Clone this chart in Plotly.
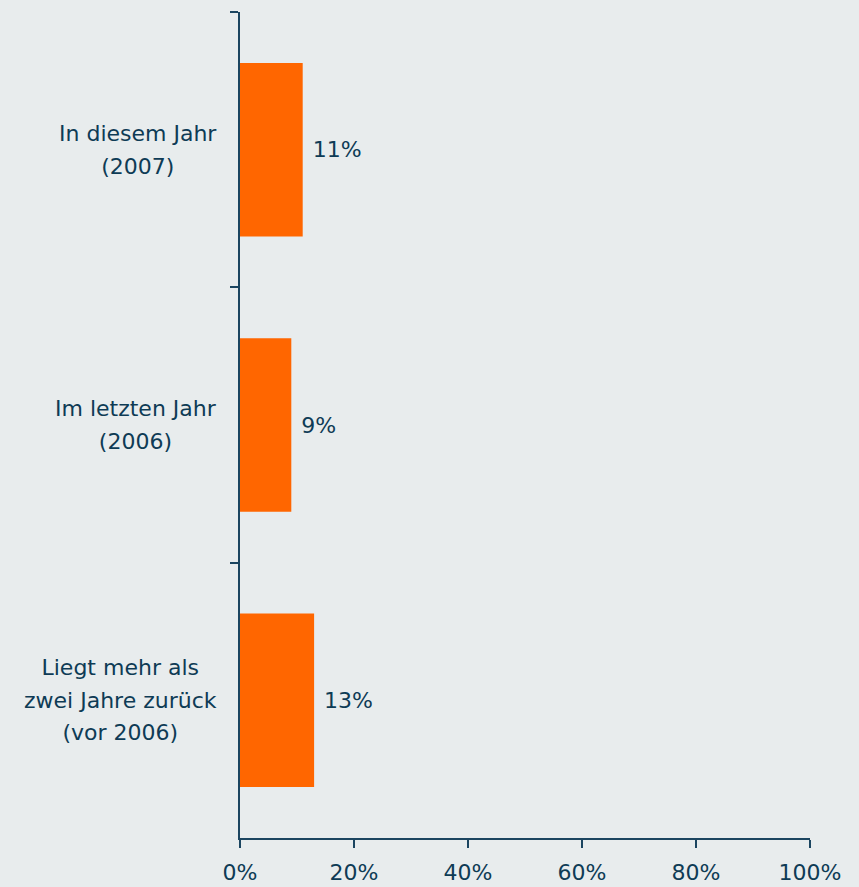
import plotly.graph_objects as go

categories = ["In diesem Jahr<br>(2007)", "Im letzten Jahr<br>(2006)", "Liegt mehr als<br>zwei Jahre zurück<br>(vor 2006)"]
values = [11, 9, 13]
x_ticks = [0, 20, 40, 60, 80, 100]
x_ticklabels = ["0%", "20%", "40%", "60%", "80%", "100%"]

TXT = "#0E3B55"
AX = "#1B4560"
BG = "#E8ECED"
FONT = "DejaVu Sans"
FS = 22

fig = go.Figure()
fig.add_trace(go.Bar(
    y=categories, x=values, orientation="h",
    marker=dict(color="#FF6600", line=dict(width=0)),
    width=0.63,
    text=[f"\u00a0{v}%" for v in values], textposition="outside",
    textfont=dict(family=FONT, size=FS, color=TXT),
    cliponaxis=False,
))

for c in categories:
    lines = c.split("<br>")
    txt = "<br>".join(f"<span style='font-size:{FS}px'>{ln}</span>" for ln in lines)
    fig.add_annotation(x=0, xref="paper", y=c, yref="y", text=txt,
                       showarrow=False, xanchor="right", yanchor="middle", align="center",
                       xshift=-21,
                       font=dict(family=FONT, size=25, color=TXT))

fig.update_layout(
    width=859, height=887,
    margin=dict(l=240, r=49, t=12, b=49, autoexpand=False),
    paper_bgcolor=BG, plot_bgcolor=BG,
    showlegend=False,
)
fig.update_xaxes(range=[0, 100], tickvals=x_ticks, ticktext=x_ticklabels,
                 showgrid=False, zeroline=False, showline=True, linecolor=AX, linewidth=2,
                 ticks="outside", ticklen=8, tickcolor=AX, tickwidth=2,
                 ticklabelstandoff=6, automargin=False,
                 tickfont=dict(family=FONT, size=FS, color=TXT))
fig.update_yaxes(autorange="reversed", showticklabels=False, showgrid=False, zeroline=False,
                 showline=True, linecolor=AX, linewidth=2, automargin=False,
                 ticks="outside", tickson="boundaries", ticklen=8, tickcolor=AX, tickwidth=2)

fig.write_html("out.html", config={"displayModeBar": False},
               post_script="document.body.style.margin='0px';document.body.style.background='#E8ECED';")
